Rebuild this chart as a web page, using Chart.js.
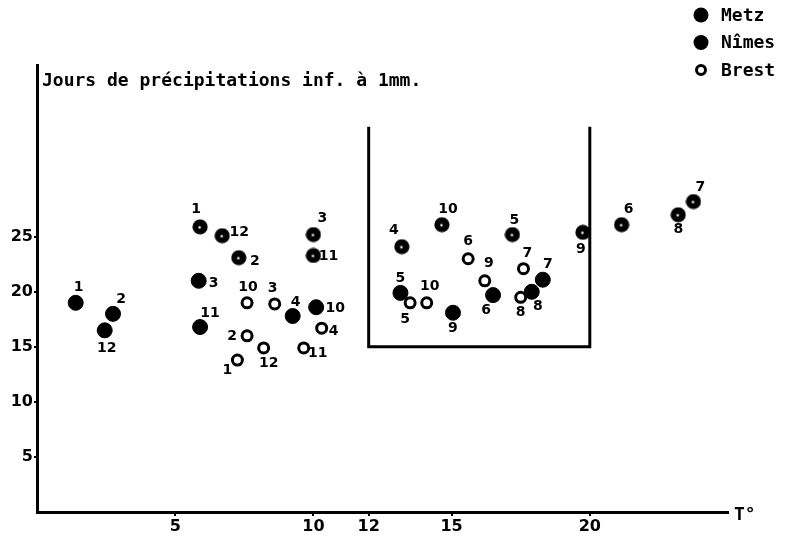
<!DOCTYPE html>
<html>
<head>
<meta charset="utf-8">
<script src="https://cdn.jsdelivr.net/npm/chart.js@4/dist/chart.umd.min.js"></script>
<style>
  body { margin: 0; background: #fff; }
</style>
</head>
<body>
<canvas id="chart" width="785" height="543"></canvas>
<script>
// mean temperature (°C) and days with < 1 mm precipitation, per month
const metzLabels = ['1', '2', '3', '4', '5', '6', '7', '8', '9', '10', '11', '12'];
const metzTemp = [1.4, 2.75, 5.85, 9.25, 13.15, 16.5, 18.3, 17.9, 15.05, 10.1, 5.9, 2.45];
const metzDays = [19.0, 18.0, 21.0, 17.8, 19.9, 19.7, 21.1, 20.0, 18.1, 18.6, 16.8, 16.5];

const nimesLabels = ['1', '2', '3', '4', '5', '6', '7', '8', '9', '10', '11', '12'];
const nimesTemp = [5.9, 7.3, 10.0, 13.2, 17.2, 21.15, 23.75, 23.2, 19.75, 14.65, 10.0, 6.7];
const nimesDays = [25.9, 23.1, 25.2, 24.1, 25.2, 26.1, 28.2, 27.0, 25.4, 26.1, 23.3, 25.1];

const brestLabels = ['1', '2', '3', '4', '5', '6', '7', '8', '9', '10', '11', '12', '10'];
const brestTemp = [7.25, 7.6, 8.6, 10.3, 13.5, 15.6, 17.6, 17.5, 16.2, 14.1, 9.65, 8.2, 7.6];
const brestDays = [13.8, 16.0, 18.9, 16.7, 19.0, 23.0, 22.1, 19.5, 21.0, 19.0, 14.9, 14.9, 19.0];

const xTicks = [5, 10, 12, 15, 20];
const yTicks = [5, 10, 15, 20, 25];
const boxTemp = [12, 20];
const boxDays = [15, 35];

// where each month number sits relative to its dot (px)
const metzOffsets = [[3,-15],[8,-14],[15,3],[3,-14],[0,-15],[-7,15],[5,-15],[6,15],[0,16],[19,1],[10,-14],[2,18]];
const nimesOffsets = [[-4,-17],[16,4],[9,-16],[-8,-16],[2,-14],[7,-15],[7,-14],[0,15],[-2,17],[6,-15],[15,1],[17,-3]];
const brestOffsets = [[-10,10],[-15,1],[-2,-16],[12,3],[-5,17],[0,-17],[4,-15],[0,15],[4,-17],[3,-16],[14,5],[5,15],[1,-15]];

const toPoints = (xs, ys) => xs.map((x, i) => ({ x: x, y: ys[i] }));

// Nimes dots: black with a tiny white centre
const nimesDot = document.createElement('canvas');
nimesDot.width = 16;
nimesDot.height = 16;
(() => {
  const c = nimesDot.getContext('2d');
  c.fillStyle = '#000';
  c.beginPath(); c.arc(8, 8, 7.6, 0, Math.PI * 2); c.fill();
  c.fillStyle = '#fff';
  c.beginPath(); c.arc(7.5, 8.5, 1.2, 0, Math.PI * 2); c.fill();
})();

const textFont = 'bold 18px "DejaVu Sans Mono", "Liberation Mono", monospace';
const numFont = 'bold 14px "DejaVu Sans", "Liberation Sans", sans-serif';

const extras = {
  id: 'extras',
  afterDatasetsDraw(chart) {
    const ctx = chart.ctx;
    const xs = chart.scales.x;
    const ys = chart.scales.y;
    const area = chart.chartArea;
    ctx.save();

    // the framed zone
    ctx.strokeStyle = '#000';
    ctx.lineWidth = 3;
    const bx0 = xs.getPixelForValue(boxTemp[0]);
    const bx1 = xs.getPixelForValue(boxTemp[1]);
    const by0 = ys.getPixelForValue(boxDays[0]);
    const by1 = ys.getPixelForValue(boxDays[1]);
    ctx.beginPath();
    ctx.moveTo(bx0, by1);
    ctx.lineTo(bx0, by0);
    ctx.lineTo(bx1, by0);
    ctx.lineTo(bx1, by1);
    ctx.stroke();

    // month numbers
    const labelSets = [
      [metzLabels, metzOffsets],
      [nimesLabels, nimesOffsets],
      [brestLabels, brestOffsets]
    ];
    ctx.fillStyle = '#000';
    ctx.font = numFont;
    ctx.textAlign = 'center';
    ctx.textBaseline = 'middle';
    labelSets.forEach(([labels, offs], di) => {
      const meta = chart.getDatasetMeta(di);
      meta.data.forEach((pt, i) => {
        ctx.fillText(labels[i], pt.x + offs[i][0], pt.y + offs[i][1]);
      });
    });

    // axis titles
    ctx.font = textFont;
    ctx.textAlign = 'left';
    ctx.fillText('Jours de précipitations inf. à 1mm.', area.left + 5, area.top + 16);
    ctx.fillText('T°', area.right + 6, area.bottom + 3);

    // legend
    const legend = [['Metz', 'fill'], ['Nîmes', 'fill'], ['Brest', 'ring']];
    legend.forEach(([name, kind], i) => {
      const y = 15 + i * 27.5;
      ctx.beginPath();
      if (kind === 'fill') {
        ctx.arc(701, y, 7.5, 0, Math.PI * 2);
        ctx.fill();
      } else {
        ctx.lineWidth = 3;
        ctx.arc(701, y, 4.5, 0, Math.PI * 2);
        ctx.stroke();
      }
      ctx.fillText(name, 721, y + 1);
    });
    ctx.restore();
  }
};

const axisFont = { family: '"DejaVu Sans", "Liberation Sans", sans-serif', size: 16, weight: 'bold' };

new Chart(document.getElementById('chart'), {
  type: 'scatter',
  data: {
    datasets: [
      {
        label: 'Metz',
        data: toPoints(metzTemp, metzDays),
        backgroundColor: '#000',
        borderColor: '#000',
        borderWidth: 1,
        pointRadius: 7.5,
        order: 2
      },
      {
        label: 'Nîmes',
        data: toPoints(nimesTemp, nimesDays),
        pointStyle: nimesDot,
        order: 1
      },
      {
        label: 'Brest',
        data: toPoints(brestTemp, brestDays),
        backgroundColor: '#fff',
        borderColor: '#000',
        borderWidth: 3,
        pointRadius: 5,
        order: 0
      }
    ]
  },
  options: {
    responsive: false,
    animation: false,
    layout: { padding: { top: 65, right: 57, bottom: 0, left: 0 } },
    plugins: {
      legend: { display: false },
      tooltip: { enabled: false }
    },
    scales: {
      x: {
        type: 'linear',
        min: 0,
        max: 25,
        afterBuildTicks: (scale) => { scale.ticks = xTicks.map((v) => ({ value: v })); },
        afterFit: (scale) => { scale.height = 31; },
        grid: { display: true, drawOnChartArea: false, drawTicks: true, tickLength: 4, color: '#000', lineWidth: 2 },
        border: { display: true, color: '#000', width: 3 },
        ticks: { color: '#000', font: axisFont, padding: 1, maxRotation: 0, autoSkip: false }
      },
      y: {
        type: 'linear',
        min: 0,
        max: 40.6,
        afterBuildTicks: (scale) => { scale.ticks = yTicks.map((v) => ({ value: v })); },
        afterFit: (scale) => { scale.width = 37; },
        grid: { display: true, drawOnChartArea: false, drawTicks: true, tickLength: 3, color: '#000', lineWidth: 2 },
        border: { display: true, color: '#000', width: 3 },
        ticks: { color: '#000', font: axisFont, padding: 1, autoSkip: false }
      }
    }
  },
  plugins: [extras]
});
</script>
</body>
</html>
